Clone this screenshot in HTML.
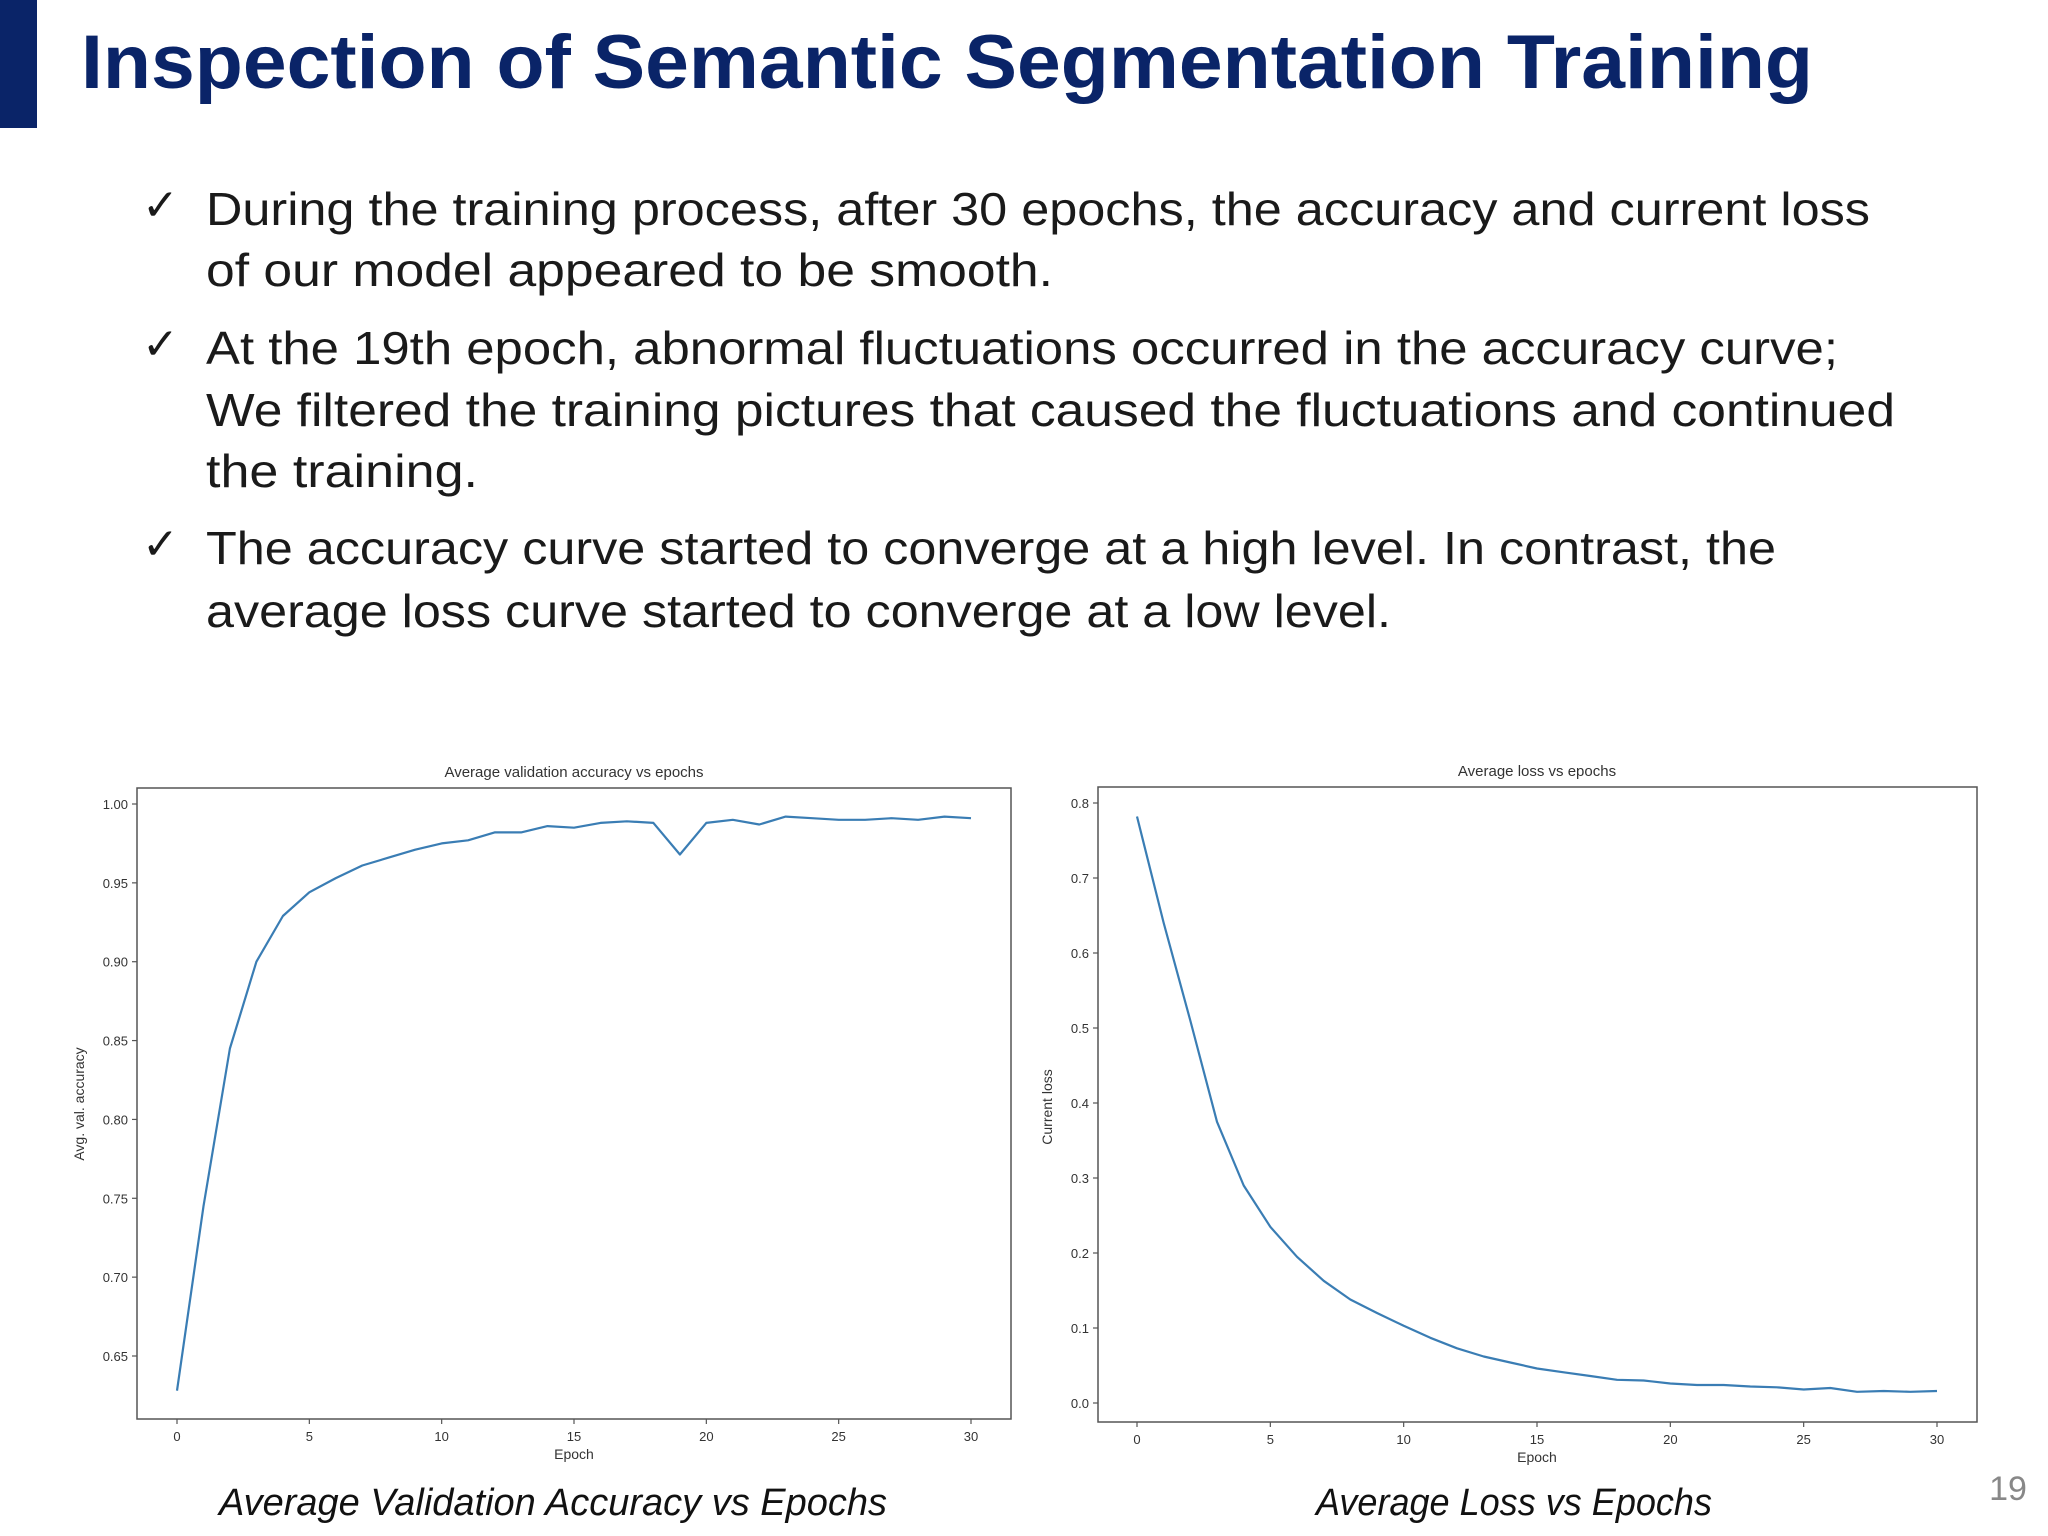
<!DOCTYPE html>
<html><head><meta charset="utf-8"><style>
html,body{margin:0;padding:0;background:#fff;}
svg{display:block;}
</style></head><body>
<svg id="page" width="2048" height="1536" viewBox="0 0 2048 1536" xmlns="http://www.w3.org/2000/svg" font-family="Liberation Sans, sans-serif">
<rect x="0" y="0" width="2048" height="1536" fill="#fff"/>
<rect x="0" y="0" width="37" height="128" fill="#0a2468"/>
<text x="81" y="88" font-size="76" font-weight="bold" fill="#0a2468" textLength="1732" lengthAdjust="spacingAndGlyphs">Inspection of Semantic Segmentation Training</text>
<g font-size="46" fill="#1a1a1a">
<text x="142" y="220" font-family="DejaVu Sans, sans-serif" font-size="44" font-weight="bold">✓</text>
<text x="206" y="225" textLength="1664" lengthAdjust="spacingAndGlyphs">During the training process, after 30 epochs, the accuracy and current loss</text>
<text x="206" y="286" textLength="847" lengthAdjust="spacingAndGlyphs">of our model appeared to be smooth.</text>
<text x="142" y="359" font-family="DejaVu Sans, sans-serif" font-size="44" font-weight="bold">✓</text>
<text x="206" y="364" textLength="1632" lengthAdjust="spacingAndGlyphs">At the 19th epoch, abnormal fluctuations occurred in the accuracy curve;</text>
<text x="206" y="426" textLength="1689" lengthAdjust="spacingAndGlyphs">We filtered the training pictures that caused the fluctuations and continued</text>
<text x="206" y="487" textLength="272" lengthAdjust="spacingAndGlyphs">the training.</text>
<text x="142" y="559" font-family="DejaVu Sans, sans-serif" font-size="44" font-weight="bold">✓</text>
<text x="206" y="564" textLength="1570" lengthAdjust="spacingAndGlyphs">The accuracy curve started to converge at a high level. In contrast, the</text>
<text x="206" y="627" textLength="1185" lengthAdjust="spacingAndGlyphs">average loss curve started to converge at a low level.</text>
</g>
<g id="chart1"></g>
<g id="chart2"></g>
<text x="553" y="1515" font-size="38" font-style="italic" text-anchor="middle" fill="#111" textLength="668" lengthAdjust="spacingAndGlyphs">Average Validation Accuracy vs Epochs</text>
<text x="1514" y="1515" font-size="38" font-style="italic" text-anchor="middle" fill="#111" textLength="396" lengthAdjust="spacingAndGlyphs">Average Loss vs Epochs</text>
<text x="2008" y="1500" font-size="34" text-anchor="middle" fill="#888">19</text>
</svg>
<script>
const epochs = [0,1,2,3,4,5,6,7,8,9,10,11,12,13,14,15,16,17,18,19,20,21,22,23,24,25,26,27,28,29,30];
const accuracy = [0.628,0.745,0.845,0.900,0.929,0.944,0.953,0.961,0.966,0.971,0.975,0.977,0.982,0.982,0.986,0.985,0.988,0.989,0.988,0.968,0.988,0.990,0.987,0.992,0.991,0.990,0.990,0.991,0.990,0.992,0.991];
const loss = [0.782,0.64,0.51,0.375,0.29,0.235,0.195,0.163,0.138,0.12,0.103,0.087,0.073,0.062,0.054,0.046,0.041,0.036,0.031,0.030,0.026,0.024,0.024,0.022,0.021,0.018,0.020,0.015,0.016,0.015,0.016];
const xTicks = [0,5,10,15,20,25,30];
const accTicks = [0.65,0.70,0.75,0.80,0.85,0.90,0.95,1.00];
const lossTicks = [0.0,0.1,0.2,0.3,0.4,0.5,0.6,0.7,0.8];

const NS = 'http://www.w3.org/2000/svg';
function mk(parent, tag, attrs, text){
  const e = document.createElementNS(NS, tag);
  for (const k in attrs) e.setAttribute(k, attrs[k]);
  if (text !== undefined) e.textContent = text;
  parent.appendChild(e);
  return e;
}
function drawChart(g, cfg){
  const xs = v => cfg.x0 + (v - cfg.xv0) / (cfg.xv1 - cfg.xv0) * (cfg.x1 - cfg.x0);
  const ys = v => cfg.y0 + (v - cfg.yv0) / (cfg.yv1 - cfg.yv0) * (cfg.y1 - cfg.y0);
  const frame = mk(g,'rect',{x:cfg.bx0,y:cfg.by0,width:cfg.bx1-cfg.bx0,height:cfg.by1-cfg.by0,fill:'none',stroke:'#555','stroke-width':1.5});
  
  
  const t = mk(g,'text',{x:cfg.tx,y:cfg.by0-11,'font-size':15,'text-anchor':'middle',fill:'#333'},cfg.title);
  
  
  xTicks.forEach(v=>{
    const x = xs(v);
    const tk = mk(g,'line',{x1:x,x2:x,y1:cfg.by1,y2:cfg.by1+5,stroke:'#555','stroke-width':1.2});
    
    
    const lb = mk(g,'text',{x:x,y:cfg.by1+22,'font-size':13,'text-anchor':'middle',fill:'#333'},String(v));
    
    
  });
  cfg.yTicks.forEach(v=>{
    const y = ys(v);
    const tk = mk(g,'line',{x1:cfg.bx0-5,x2:cfg.bx0,y1:y,y2:y,stroke:'#555','stroke-width':1.2});
    
    
    const lb = mk(g,'text',{x:cfg.bx0-9,y:y+5,'font-size':13,'text-anchor':'end',fill:'#333'},v.toFixed(cfg.dec));
    
    
  });
  const xl = mk(g,'text',{x:cfg.tx,y:cfg.by1+40,'font-size':14,'text-anchor':'middle',fill:'#333'},'Epoch');
  
  
  const yl = mk(g,'text',{x:0,y:0,'font-size':14,'text-anchor':'middle',fill:'#333',transform:`translate(${cfg.ylx},${cfg.yly}) rotate(-90)`},cfg.ylabel);
  
  
  const pts = epochs.map((e,i)=>xs(e).toFixed(1)+','+ys(cfg.data[i]).toFixed(1)).join(' ');
  const pl = mk(g,'polyline',{points:pts,fill:'none',stroke:'#3a7db4','stroke-width':2.2,'stroke-linejoin':'round'});
  
  
}
drawChart(document.getElementById('chart1'),{
  bx0:137,bx1:1011,by0:788,by1:1419,tx:574,
  x0:177,x1:971,xv0:0,xv1:30,
  y0:804,y1:1356,yv0:1.00,yv1:0.65,
  yTicks:accTicks,dec:2,data:accuracy,
  title:'Average validation accuracy vs epochs',ylabel:'Avg. val. accuracy',ylx:84,yly:1104
});
drawChart(document.getElementById('chart2'),{
  bx0:1098,bx1:1977,by0:787,by1:1422,tx:1537,
  x0:1137,x1:1937,xv0:0,xv1:30,
  y0:803,y1:1403,yv0:0.8,yv1:0.0,
  yTicks:lossTicks,dec:1,data:loss,
  title:'Average loss vs epochs',ylabel:'Current loss',ylx:1052,yly:1107
});
</script>
</body></html>
